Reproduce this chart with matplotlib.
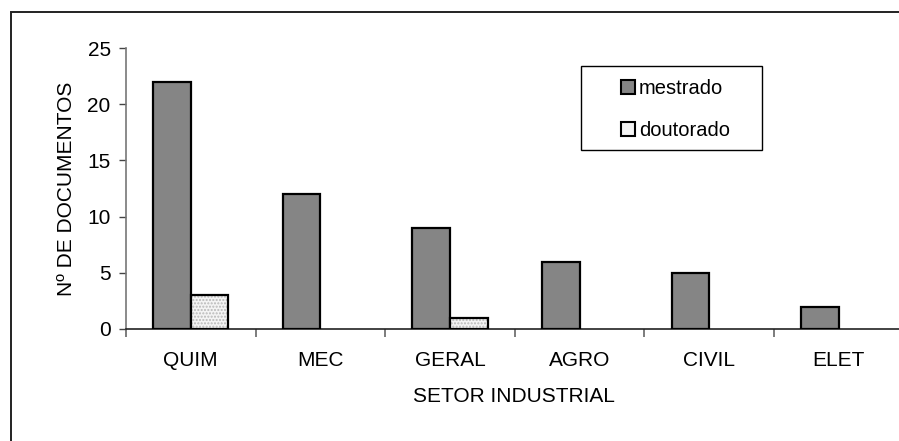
import matplotlib
matplotlib.use("Agg")
import matplotlib.pyplot as plt
from matplotlib.patches import Rectangle, Patch
import numpy as np

plt.rcParams['font.family'] = ['Liberation Sans', 'DejaVu Sans']

setores = ["QUIM", "MEC", "GERAL", "AGRO", "CIVIL", "ELET"]
mestrado = [22, 12, 9, 6, 5, 2]
doutorado = [3, 0, 1, 0, 0, 0]
yticks = [0, 5, 10, 15, 20, 25]

W, H = 899, 441
fig = plt.figure(figsize=(W / 100, H / 100), dpi=100)

# outer chart frame (only top and left edges fall inside the image)
frame = Rectangle((11 / W, -0.1), 1.2, 1 - 12 / H + 0.1, transform=fig.transFigure,
                  fill=False, edgecolor='#222222', linewidth=1.4)
fig.patches.append(frame)

ax = fig.add_axes([126 / W, 112 / H, 777.6 / W, 281 / H])
x = np.arange(len(setores))
bw = 0.29

ax.bar(x - bw / 2, mestrado, bw, color='#858585', edgecolor='black', linewidth=1.6,
       zorder=3)
# doutorado: stippled fill, then a black outline on top
dbars = [v if v > 0 else np.nan for v in doutorado]
ax.bar(x + bw / 2, dbars, bw, color='#f4f4f4', edgecolor='#b8b8b8', hatch='.....',
       linewidth=0, zorder=3)
ax.bar(x + bw / 2, dbars, bw, fill=False, edgecolor='black', linewidth=1.6, zorder=4)

ax.set_xlim(-0.5, len(setores) - 0.5)
ax.set_ylim(0, 25)
ax.set_yticks(yticks)

ax.set_xticks(x)
ax.set_xticklabels(setores)
ax.set_xticks(np.arange(len(setores) + 1) - 0.5, minor=True)
ax.tick_params(axis='x', which='major', length=0, pad=16, labelsize=15)
ax.tick_params(axis='x', which='minor', length=6, width=1.2, color='#666666')
ax.tick_params(axis='y', length=5, width=1, color='#444444', pad=6, labelsize=15)

for s in ['top', 'right']:
    ax.spines[s].set_visible(False)
ax.spines['left'].set_color('#777777')
ax.spines['left'].set_linewidth(1.2)
ax.spines['bottom'].set_color('#222222')
ax.spines['bottom'].set_linewidth(1.2)

ax.set_ylabel("Nº DE DOCUMENTOS", fontsize=15, labelpad=8)
ax.set_xlabel("SETOR INDUSTRIAL", fontsize=15)
ax.xaxis.set_label_coords((514 - 126) / 777.6, -(387 - 329) / 281, transform=ax.transAxes)

# legend box
box = Rectangle((581 / W, 1 - 150 / H), (762 - 581) / W, (150 - 66) / H,
                transform=fig.transFigure, facecolor='white', edgecolor='black',
                linewidth=1.0, zorder=5)
fig.patches.append(box)

h1 = Patch(facecolor='#858585', edgecolor='black', linewidth=1.5)
h2 = Patch(facecolor='#f4f4f4', edgecolor='black', linewidth=1.5)
leg = fig.legend([h1, h2], ['mestrado', 'doutorado'], loc='upper left',
                 bbox_to_anchor=(621 / W, 1 - 79 / H), fontsize=14.5,
                 frameon=False, handlelength=0.7, handleheight=0.7, handletextpad=0.2,
                 labelspacing=1.15, borderpad=0, borderaxespad=0)
leg.set_zorder(6)

fig.savefig("out.png", dpi=100)
